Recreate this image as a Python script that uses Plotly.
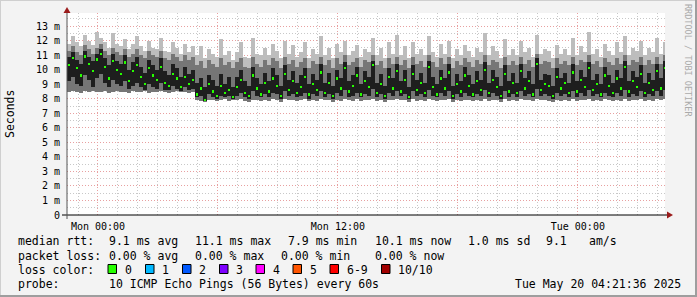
import numpy as np
import pandas as pd
import plotly.graph_objects as go

# ---------------- data (milliseconds) ----------------
start_time = "2025-05-18 22:27"
end_time = "2025-05-20 04:21:36"
step_minutes = 12

median_ms = [
    10.3, 10.8, 10.1, 9.6, 10.9, 10.4, 9.9, 10.7, 11.1, 10.2, 9.4, 10.6, 10.0, 9.7, 10.5, 9.2,
    9.9, 10.3, 9.5, 9.0, 10.1, 9.6, 9.3, 10.2, 9.1, 8.9, 9.7, 9.4, 8.8, 9.5, 9.0, 9.3,
    8.3, 8.7, 7.9, 9.0, 8.5, 8.2, 8.9, 8.4, 8.6, 8.1,
    8.8, 9.3, 8.4, 8.2, 9.6, 8.7, 8.3, 9.1, 8.5, 9.4,
    8.9, 8.2, 9.7, 8.6, 9.2, 8.4, 8.8, 9.5, 8.3, 9.0,
    8.6, 9.8, 8.4, 9.1, 8.2, 9.4, 8.7, 10.1, 8.5, 8.9,
    9.6, 8.3, 9.2, 8.8, 10.3, 8.4, 9.0, 8.2, 9.5, 8.7,
    9.9, 8.5, 9.3, 8.1, 9.7, 8.6, 9.1, 8.4, 10.2, 8.8,
    8.3, 9.4, 8.7, 9.8, 8.2, 9.0, 8.5, 9.6, 8.9, 8.3,
    9.2, 8.6, 10.0, 8.4, 9.3, 8.8, 8.2, 9.7, 8.5, 9.1,
    8.4, 9.9, 8.7, 9.2, 8.3, 10.4, 8.6, 9.0, 8.9, 8.2,
    9.5, 8.7, 9.1, 8.4, 9.8, 8.5, 9.3, 8.8, 10.1, 8.6,
    9.0, 8.3, 9.6, 8.9, 8.4, 9.4, 8.7, 10.2, 8.5, 9.2,
    8.8, 9.7, 8.4, 9.1, 8.6, 9.9, 8.7, 10.1,
]
min_ms = [
    8.45, 8.5, 8.45, 8.4, 8.5, 8.45, 8.5, 8.45, 8.45, 8.5, 8.4, 8.45, 8.5, 8.45, 8.45, 8.4,
    8.5, 8.45, 8.45, 8.5, 8.4, 8.45, 8.45, 8.5, 8.45, 8.4, 8.45, 8.5, 8.45, 8.45, 8.4, 8.45,
    7.9, 7.85, 7.8, 7.9, 7.9, 7.85, 7.9, 7.95, 7.85, 7.9,
    7.9, 7.95, 7.85, 7.8, 7.9, 7.9, 7.85, 7.9, 7.85, 7.95,
    7.9, 7.8, 7.95, 7.9, 7.9, 7.85, 7.9, 7.95, 7.85, 7.9,
    7.85, 7.95, 7.9, 7.9, 7.8, 7.9, 7.85, 7.95, 7.9, 7.85,
    7.95, 7.85, 7.9, 7.9, 8.0, 7.85, 7.9, 7.8, 7.9, 7.9,
    7.95, 7.9, 7.9, 7.8, 7.95, 7.85, 7.9, 7.85, 7.95, 7.9,
    7.85, 7.9, 7.9, 7.95, 7.8, 7.9, 7.85, 7.9, 7.9, 7.85,
    7.9, 7.85, 7.95, 7.85, 7.9, 7.9, 7.8, 7.95, 7.85, 7.9,
    7.85, 7.95, 7.9, 7.9, 7.85, 8.0, 7.9, 7.9, 7.85, 7.8,
    7.9, 7.85, 7.9, 7.85, 7.95, 7.85, 7.9, 7.9, 7.95, 7.85,
    7.9, 7.85, 7.95, 7.9, 7.85, 7.9, 7.85, 8.0, 7.85, 7.9,
    7.9, 7.95, 7.85, 7.9, 7.85, 7.95, 7.9, 7.95,
]
lower_q_ms = [
    9.2, 9.5, 9.0, 8.9, 9.6, 9.3, 8.8, 9.4, 9.7, 9.1, 8.8, 9.3, 9.0, 8.9, 9.2, 8.7,
    8.9, 9.1, 8.8, 8.6, 9.0, 8.8, 8.7, 9.1, 8.6, 8.6, 8.9, 8.7, 8.55, 8.8, 8.6, 8.7,
    8.1, 8.2, 7.85, 8.3, 8.1, 8.0, 8.2, 8.1, 8.2, 8.0,
    8.2, 8.4, 8.1, 8.0, 8.5, 8.2, 8.1, 8.3, 8.1, 8.4,
    8.3, 8.0, 8.5, 8.2, 8.3, 8.1, 8.2, 8.4, 8.0, 8.3,
    8.2, 8.5, 8.1, 8.3, 8.0, 8.4, 8.2, 8.6, 8.1, 8.2,
    8.4, 8.1, 8.3, 8.2, 8.7, 8.1, 8.3, 8.0, 8.4, 8.2,
    8.5, 8.2, 8.3, 8.0, 8.5, 8.2, 8.3, 8.1, 8.6, 8.2,
    8.1, 8.4, 8.2, 8.5, 8.0, 8.3, 8.1, 8.4, 8.2, 8.1,
    8.3, 8.2, 8.6, 8.1, 8.4, 8.2, 8.0, 8.5, 8.1, 8.3,
    8.1, 8.5, 8.2, 8.3, 8.1, 8.7, 8.2, 8.3, 8.2, 8.0,
    8.4, 8.2, 8.3, 8.1, 8.5, 8.1, 8.4, 8.2, 8.6, 8.2,
    8.3, 8.1, 8.4, 8.2, 8.1, 8.4, 8.2, 8.6, 8.1, 8.3,
    8.2, 8.5, 8.1, 8.3, 8.2, 8.5, 8.2, 8.6,
]
upper_q_ms = [
    10.9, 11.2, 10.7, 10.4, 11.3, 10.9, 10.6, 11.1, 11.4, 10.8, 10.3, 11.1, 10.6, 10.4, 11.0, 10.0,
    10.5, 10.9, 10.2, 9.8, 10.7, 10.3, 10.0, 10.8, 9.9, 9.6, 10.4, 10.1, 9.5, 10.2, 9.7, 10.0,
    9.1, 9.4, 8.8, 9.6, 9.3, 8.9, 9.7, 9.0, 9.5, 8.8,
    9.5, 10.0, 9.2, 8.9, 10.2, 9.4, 9.0, 9.8, 9.2, 10.1,
    9.6, 8.9, 10.3, 9.3, 9.9, 9.1, 9.6, 10.1, 9.0, 9.7,
    9.3, 10.4, 9.1, 9.8, 8.9, 10.0, 9.4, 10.5, 9.2, 9.6,
    10.2, 9.0, 9.9, 9.5, 10.6, 9.1, 9.7, 8.9, 10.1, 9.4,
    10.4, 9.2, 10.0, 8.8, 10.3, 9.3, 9.8, 9.1, 10.6, 9.5,
    9.0, 10.0, 9.4, 10.4, 8.9, 9.7, 9.2, 10.2, 9.6, 9.0,
    9.9, 9.3, 10.5, 9.1, 10.0, 9.5, 8.9, 10.3, 9.2, 9.8,
    9.1, 10.4, 9.4, 9.9, 9.0, 10.8, 9.3, 9.7, 9.6, 8.9,
    10.1, 9.4, 9.8, 9.1, 10.4, 9.2, 10.0, 9.5, 10.5, 9.3,
    9.7, 9.0, 10.2, 9.6, 9.1, 10.0, 9.4, 10.6, 9.2, 9.9,
    9.5, 10.3, 9.1, 9.8, 9.3, 10.4, 9.4, 10.6,
]
ninth_ms = [
    11.3, 11.6, 11.2, 11.0, 11.7, 11.4, 11.1, 11.5, 11.8, 11.3, 11.0, 11.5, 11.2, 11.0, 11.4, 10.9,
    11.1, 11.4, 11.0, 10.8, 11.3, 11.0, 10.9, 11.3, 10.8, 10.7, 11.1, 10.9, 10.6, 11.0, 10.7, 10.9,
    10.3, 10.6, 10.1, 10.7, 10.4, 10.2, 10.8, 10.3, 10.5, 10.1,
    10.5, 10.8, 10.2, 10.1, 10.9, 10.4, 10.2, 10.7, 10.3, 10.8,
    10.6, 10.1, 10.9, 10.4, 10.7, 10.2, 10.5, 10.8, 10.1, 10.6,
    10.4, 10.9, 10.3, 10.7, 10.1, 10.8, 10.4, 11.0, 10.3, 10.5,
    10.8, 10.2, 10.7, 10.5, 11.0, 10.3, 10.6, 10.1, 10.8, 10.4,
    10.9, 10.3, 10.7, 10.1, 10.9, 10.4, 10.6, 10.2, 11.0, 10.5,
    10.2, 10.8, 10.4, 10.9, 10.1, 10.6, 10.3, 10.8, 10.5, 10.2,
    10.7, 10.4, 11.0, 10.3, 10.7, 10.5, 10.1, 10.9, 10.3, 10.6,
    10.3, 10.9, 10.4, 10.7, 10.2, 11.1, 10.4, 10.6, 10.5, 10.1,
    10.8, 10.4, 10.6, 10.3, 10.9, 10.3, 10.7, 10.5, 11.0, 10.4,
    10.6, 10.2, 10.8, 10.5, 10.3, 10.8, 10.4, 11.0, 10.3, 10.7,
    10.5, 10.9, 10.3, 10.7, 10.4, 10.9, 10.4, 11.0,
]
max_ms = [
    11.8, 12.3, 11.9, 11.6, 12.4, 12.0, 11.7, 12.6, 12.2, 11.9, 11.5, 12.5, 11.8, 11.6, 12.1, 11.4,
    11.8, 12.3, 11.6, 11.3, 12.0, 11.5, 11.4, 12.2, 11.3, 11.2, 11.9, 11.5, 11.1, 11.8, 11.2, 11.6,
    11.0, 11.6, 10.8, 11.4, 11.1, 10.9, 12.1, 11.0, 11.3, 10.7,
    11.2, 11.9, 10.9, 10.8, 12.2, 11.1, 11.0, 11.5, 11.0, 11.8,
    11.3, 10.8, 12.0, 11.1, 11.7, 10.9, 11.2, 11.9, 10.8, 11.4,
    11.1, 12.3, 11.0, 11.5, 10.8, 11.8, 11.2, 12.0, 11.0, 11.3,
    11.7, 10.9, 11.4, 11.2, 12.2, 11.0, 11.5, 10.8, 11.9, 11.1,
    12.4, 11.0, 11.6, 10.8, 11.9, 11.1, 11.4, 11.0, 12.3, 11.2,
    10.9, 11.8, 11.1, 12.0, 10.8, 11.4, 11.0, 11.7, 11.3, 10.9,
    11.5, 11.2, 12.5, 11.0, 11.6, 11.3, 10.8, 12.1, 11.0, 11.4,
    11.0, 12.0, 11.2, 11.5, 10.9, 12.4, 11.1, 11.4, 11.3, 10.8,
    11.7, 11.1, 11.4, 11.0, 12.2, 11.0, 11.6, 11.2, 12.6, 11.1,
    11.4, 10.9, 11.8, 11.3, 11.0, 11.9, 11.2, 12.3, 11.0, 11.5,
    11.3, 12.0, 11.0, 11.5, 11.2, 12.2, 11.1, 11.9,
]

y_tick_values = list(range(0, 14))
y_tick_text = ["0"] + [f"{v} m" for v in range(1, 14)]
x_tick_values = ["2025-05-19 00:00", "2025-05-19 06:00", "2025-05-19 12:00",
                 "2025-05-19 18:00", "2025-05-20 00:00"]
x_tick_text = ["Mon 00:00", "", "Mon 12:00", "", "Tue 00:00"]

loss_labels = ["0", "1", "2", "3", "4", "5", "6-9", "10/10"]
loss_colors = ["#26ff00", "#00b8ff", "#0059ff", "#7e00ff", "#ff00ff", "#ff5500", "#ff0000", "#a10000"]

# ---------------- figure ----------------
W, H = 697, 297
L, R, T, B = 67, 665, 13, 215


def px(x):
    return (x - L) / (R - L)


def py(y):
    return (B - y) / (B - T)


times = pd.date_range(start=start_time, periods=len(median_ms), freq=f"{step_minutes}min")
step_ms = step_minutes * 60 * 1000

lo = np.array(min_ms)
q1 = np.array(lower_q_ms)
med = np.array(median_ms)
q3 = np.array(upper_q_ms)
p9 = np.array(ninth_ms)
hi = np.array(max_ms)

fig = go.Figure()
fig.add_trace(go.Bar(x=times, base=lo, y=hi - lo, width=step_ms, offset=0,
                     marker=dict(color="#bdbdbd", line=dict(width=0)), hoverinfo="skip"))
fig.add_trace(go.Bar(x=times, base=lo, y=p9 - lo, width=step_ms, offset=0,
                     marker=dict(color="#767676", line=dict(width=0)), hoverinfo="skip"))
fig.add_trace(go.Bar(x=times, base=q1, y=q3 - q1, width=step_ms, offset=0,
                     marker=dict(color="#1e1e1e", line=dict(width=0)), hoverinfo="skip"))
mw = step_ms * 0.6
fig.add_trace(go.Bar(x=times, base=med - 0.08, y=[0.16] * len(med), width=mw,
                     offset=(step_ms - mw) / 2,
                     marker=dict(color="#26ff00", line=dict(width=0)), hoverinfo="skip"))

mono = "DejaVu Sans Mono"
fig.update_layout(
    width=W, height=H,
    margin=dict(l=L, r=W - R, t=T, b=H - B, pad=0),
    paper_bgcolor="#f3f3f3", plot_bgcolor="#ffffff",
    barmode="overlay", bargap=0, showlegend=False,
    font=dict(family=mono, size=10, color="#000000"),
)
fig.update_xaxes(
    type="date", range=[start_time, end_time],
    tickmode="array", tickvals=x_tick_values, ticktext=x_tick_text,
    showgrid=True, gridcolor="#e8a0a0", griddash="1px,2px", gridwidth=1,
    minor=dict(tickmode="linear", tick0="2025-05-19 00:00", dtick=3600000,
               showgrid=True, gridcolor="#c8c8c8", griddash="1px,2px", gridwidth=1),
    showline=False, zeroline=False, ticks="", ticklabelstandoff=4,
    tickfont=dict(family=mono, size=10, color="#000000"),
)
fig.update_yaxes(
    range=[0, 13.9], tickmode="array", tickvals=y_tick_values, ticktext=y_tick_text,
    showgrid=True, gridcolor="#e8a0a0", griddash="1px,2px", gridwidth=1,
    minor=dict(tickmode="linear", tick0=0, dtick=0.5,
               showgrid=True, gridcolor="#c8c8c8", griddash="1px,2px", gridwidth=1),
    showline=False, zeroline=False, ticks="", ticklabelstandoff=6,
    tickfont=dict(family=mono, size=10, color="#000000"),
)

shapes = []
# axes lines and arrows
shapes.append(dict(type="line", xref="paper", yref="paper", x0=px(62), x1=px(668), y0=py(215), y1=py(215),
                   line=dict(color="#000000", width=1)))
shapes.append(dict(type="line", xref="paper", yref="paper", x0=px(67), x1=px(67), y0=py(219), y1=py(12),
                   line=dict(color="#555555", width=1)))
shapes.append(dict(type="path", xref="paper", yref="paper",
                   path=f"M {px(667)} {py(211.5)} L {px(673)} {py(215)} L {px(667)} {py(218.5)} Z",
                   fillcolor="#9b1c1c", line=dict(width=0)))
shapes.append(dict(type="path", xref="paper", yref="paper",
                   path=f"M {px(63.5)} {py(13)} L {px(67)} {py(7)} L {px(70.5)} {py(13)} Z",
                   fillcolor="#9b1c1c", line=dict(width=0)))
# frame shading
shapes.append(dict(type="line", xref="paper", yref="paper", x0=px(696), x1=px(696), y0=py(0), y1=py(297),
                   line=dict(color="#9e9e9e", width=2)))
shapes.append(dict(type="line", xref="paper", yref="paper", x0=px(0), x1=px(697), y0=py(296), y1=py(296),
                   line=dict(color="#9e9e9e", width=2)))
shapes.append(dict(type="line", xref="paper", yref="paper", x0=px(0.5), x1=px(0.5), y0=py(0), y1=py(295),
                   line=dict(color="#cfcfcf", width=1)))
shapes.append(dict(type="line", xref="paper", yref="paper", x0=px(0), x1=px(695), y0=py(0.5), y1=py(0.5),
                   line=dict(color="#cfcfcf", width=1)))

# loss colour boxes
box_x = [108, 145.5, 182.5, 219.5, 256, 293, 330, 381.5]
for bx, col in zip(box_x, loss_colors):
    shapes.append(dict(type="rect", xref="paper", yref="paper", x0=px(bx), x1=px(bx + 8.5),
                       y0=py(264.5), y1=py(273.5), fillcolor=col, line=dict(color="#000000", width=1)))

fig.update_layout(shapes=shapes)

ann = []


def text(x, y, s, size=11.5, color="#000000", anchor="left", angle=0):
    ann.append(dict(xref="paper", yref="paper", x=px(x), y=py(y), text=s, showarrow=False,
                    xanchor=anchor, yanchor="middle", textangle=angle,
                    font=dict(family=mono, size=size, color=color)))


text(10, 114, "Seconds", anchor="center", angle=-90)
text(688, 60, "RRDTOOL / TOBI OETIKER", size=8.5, color="#aaaaaa", anchor="center", angle=90)

r1, r2, r3, r4 = 241.5, 255.5, 269.5, 283.5
text(16, r1, "median rtt:")
text(107, r1, f"{np.mean(med):.1f} ms avg")
text(193, r1, f"{np.max(med):.1f} ms max")
text(286, r1, f"{np.min(med):.1f} ms min")
text(373, r1, f"{med[-1]:.1f} ms now")
text(466, r1, "1.0 ms sd")
text(544, r1, f"{np.mean(med):.1f}")
text(587, r1, "am/s")

text(16, r2, "packet loss:")
text(107, r2, "0.00 % avg")
text(193, r2, "0.00 % max")
text(279, r2, "0.00 % min")
text(373, r2, "0.00 % now")

text(16, r3, "loss color:")
for bx, lab in zip(box_x, loss_labels):
    text(bx + 14.5, r3, lab)

text(16, r4, "probe:")
text(107, r4, "10 ICMP Echo Pings (56 Bytes) every 60s")
text(513, r4, "Tue May 20 04:21:36 2025")

fig.update_layout(annotations=ann)
fig.write_html("out.html")
